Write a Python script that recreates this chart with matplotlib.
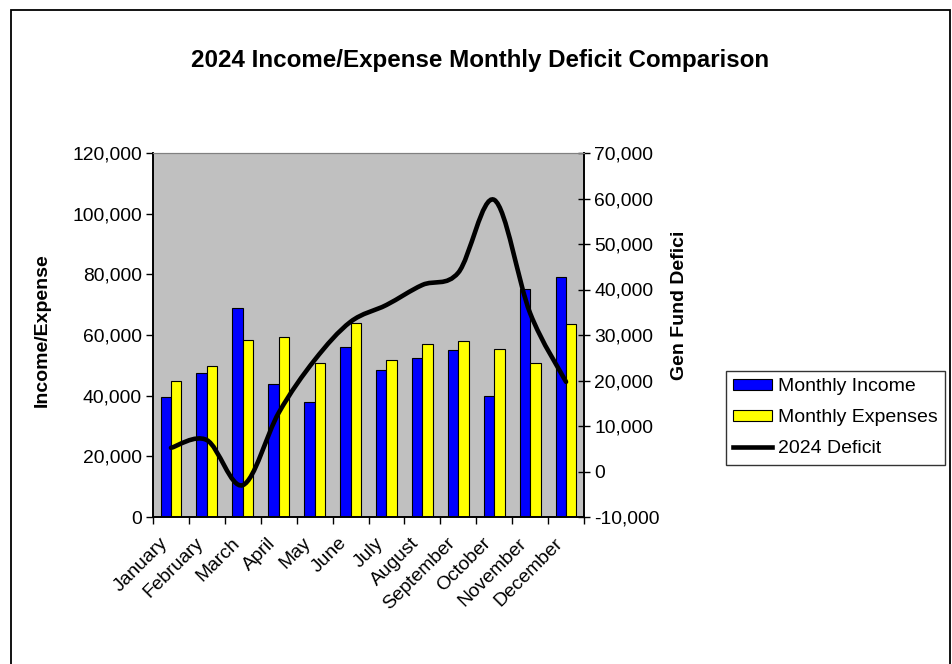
import numpy as np
import matplotlib
matplotlib.use("Agg")
import matplotlib.pyplot as plt
import matplotlib.transforms as mtransforms
from matplotlib.path import Path
from matplotlib.patches import PathPatch, Rectangle, Patch
from matplotlib.lines import Line2D
from matplotlib.ticker import FuncFormatter, FixedLocator

# data
months = ["January", "February", "March", "April", "May", "June",
          "July", "August", "September", "October", "November", "December"]
income = [39700, 47400, 69000, 43700, 37800, 55900,
          48500, 52300, 55000, 39800, 75100, 79100]
expenses = [45000, 49900, 58400, 59400, 50900, 64000,
            51900, 56900, 57900, 55400, 50900, 63500]
deficit = [5200, 6900, -3000, 12900, 24500, 32900,
           36600, 41000, 43700, 59700, 34800, 19700]

plt.rcParams["font.family"] = ["Liberation Sans", "DejaVu Sans"]

W, H = 952, 664
fig = plt.figure(figsize=(W / 100, H / 100), dpi=100)

# outer chart border
fig.patches.append(Rectangle((11 / W, -0.05), (950 - 11) / W, 1 - 10 / H + 0.05,
                             transform=fig.transFigure, fill=False,
                             edgecolor="black", linewidth=1.3))

ax = fig.add_axes([153 / W, 1 - 517 / H, (584 - 153) / W, (517 - 153) / H])
ax.set_facecolor("#C0C0C0")
ax2 = ax.twinx()

x = np.arange(len(months))
bw = 0.29
ax.bar(x + 0.5 - bw, income, width=bw, align="edge", color="#0000FF",
       edgecolor="black", linewidth=0.8, zorder=2)
ax.bar(x + 0.5, expenses, width=bw, align="edge", color="#FFFF00",
       edgecolor="black", linewidth=0.8, zorder=2)

ax.set_xlim(0, len(months))
ax.set_ylim(0, 120000)
ax2.set_ylim(-10000, 70000)

# smoothed line (bezier through points, excel style)
px = x + 0.5
py = np.array(deficit, dtype=float)
verts = [(px[0], py[0])]
codes = [Path.MOVETO]
n = len(px)
for i in range(n - 1):
    p0 = (px[max(i - 1, 0)], py[max(i - 1, 0)])
    p1 = (px[i], py[i])
    p2 = (px[i + 1], py[i + 1])
    p3 = (px[min(i + 2, n - 1)], py[min(i + 2, n - 1)])
    c1 = (p1[0] + (p2[0] - p0[0]) / 6, p1[1] + (p2[1] - p0[1]) / 6)
    c2 = (p2[0] - (p3[0] - p1[0]) / 6, p2[1] - (p3[1] - p1[1]) / 6)
    verts += [c1, c2, p2]
    codes += [Path.CURVE4] * 3
ax2.add_patch(PathPatch(Path(verts, codes), fill=False, edgecolor="black",
                        linewidth=3.3, capstyle="round", zorder=3))

fmt = FuncFormatter(lambda v, p: f"{int(v):,}")
ax.yaxis.set_major_formatter(fmt)
ax2.yaxis.set_major_formatter(fmt)
ax.set_yticks(np.arange(0, 120001, 20000))
ax2.set_yticks(np.arange(-10000, 70001, 10000))

fs = 13.9
ax.xaxis.set_major_locator(FixedLocator(px))
ax.xaxis.set_minor_locator(FixedLocator(np.arange(0, len(months) + 1)))
ax.set_xticklabels(months, rotation=45, ha="right", va="center",
                   rotation_mode="anchor")
ax.tick_params(axis="x", which="major", length=0, pad=17, labelsize=fs)
ax.tick_params(axis="x", which="minor", length=5, width=1, direction="out")
ax.tick_params(axis="y", length=5, width=1, direction="out", labelsize=fs, pad=3)
ax2.tick_params(axis="y", length=9, width=1, direction="inout", labelsize=fs, pad=3)
shift = mtransforms.ScaledTranslation(-6 / 100, 0, fig.dpi_scale_trans)
for lbl in ax.get_xticklabels():
    lbl.set_transform(lbl.get_transform() + shift)

for a in (ax, ax2):
    a.spines["top"].set_color("#808080")
    a.spines["left"].set_linewidth(1.2)
    a.spines["right"].set_linewidth(1.2)
    a.spines["bottom"].set_linewidth(1.2)
ax2.set_zorder(ax.get_zorder() + 1)
ax2.patch.set_visible(False)

fig.text(480 / W, 1 - 60 / H, "2024 Income/Expense Monthly Deficit Comparison",
         ha="center", va="center", fontsize=17.4, fontweight="bold")
fig.text(42 / W, 1 - 330 / H, "Income/Expense", rotation=90, ha="center",
         va="center", fontsize=14, fontweight="bold")
fig.text(680 / W, 1 - 305 / H, "Gen Fund Defici", rotation=90, ha="center",
         va="center", fontsize=14, fontweight="bold")

handles = [Patch(facecolor="#0000FF", edgecolor="black", linewidth=0.8),
           Patch(facecolor="#FFFF00", edgecolor="black", linewidth=0.8),
           Line2D([], [], color="black", linewidth=3.3)]
leg = fig.legend(handles, ["Monthly Income", "Monthly Expenses", "2024 Deficit"],
                 loc="upper left", bbox_to_anchor=(726 / W, 1 - 371 / H),
                 frameon=True, fancybox=False, fontsize=14, handlelength=2.0,
                 handleheight=0.5, handletextpad=0.3, labelspacing=0.72,
                 borderpad=0.38, borderaxespad=0)
leg.get_frame().set_edgecolor("black")
leg.get_frame().set_linewidth(1.0)

fig.savefig("out.png", dpi=100)
